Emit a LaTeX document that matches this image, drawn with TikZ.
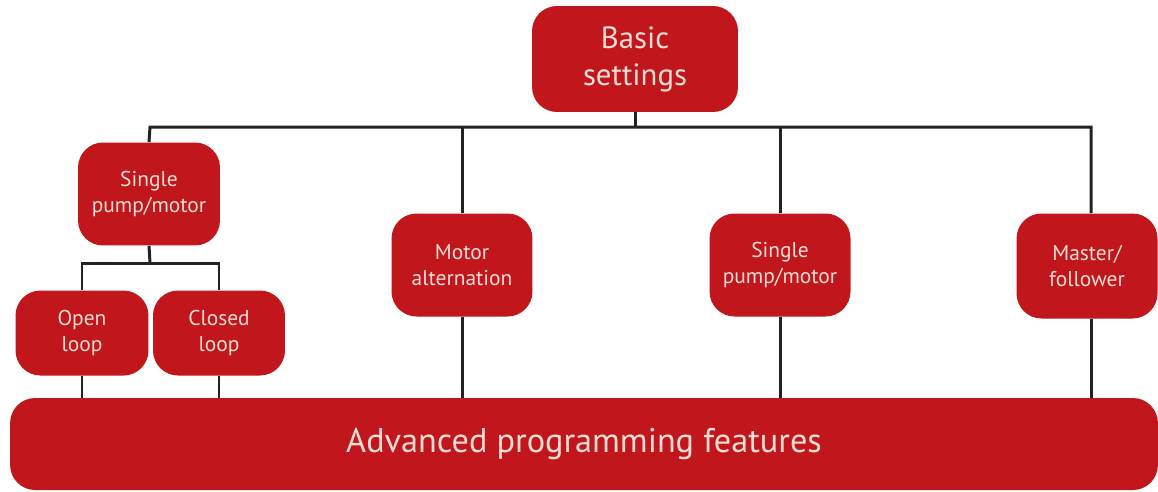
\documentclass[tikz,border=0pt]{standalone}
\usepackage{fontspec}
\setmainfont{PT Sans}
\usepackage{xcolor}
\usepackage{tikz}
\definecolor{boxred}{HTML}{C0161C}
\definecolor{boxtext}{HTML}{F7DCD2}
\definecolor{wire}{HTML}{222222}

\begin{document}
\begin{tikzpicture}[x=0.02cm,y=-0.02cm,
                box/.style={fill=boxred,text=boxtext,rounded corners=0.5cm,align=center,inner sep=0pt,font=\fontsize{12.2}{14.8}\selectfont},
                wirestyle/.style={draw=wire,line width=1.7pt}]
                \useasboundingbox (0,0) rectangle (1158,491);
                \node[box,minimum width=4.12cm,minimum height=2.12cm,font=\fontsize{17.5}{21}\selectfont] (basic) at (635,59) {Basic\\settings};
                \node[box,minimum width=2.84cm,minimum height=2.06cm] (single) at (149,194) {Single\\pump/motor};
                \node[box,minimum width=2.82cm,minimum height=2.06cm] (motor) at (462,265) {Motor\\alternation};
                \node[box,minimum width=2.82cm,minimum height=2.06cm] (pump) at (780,265) {Single\\pump/motor};
                \node[box,minimum width=2.82cm,minimum height=2.1cm] (master) at (1087,266) {Master/\\follower};
                \node[box,minimum width=2.66cm,minimum height=1.7cm] (open) at (82,333) {Open\\loop};
                \node[box,minimum width=2.64cm,minimum height=1.7cm] (closed) at (219,333) {Closed\\loop};
                \node[box,minimum width=22.96cm,minimum height=1.84cm,font=\fontsize{19.5}{22}\selectfont] (adv) at (584,444) {Advanced programming features};
                \coordinate (busL) at (150,127);
                \coordinate (busR) at (1091,127);
                \coordinate (sub) at (150,263);
                \draw[wirestyle] (basic.south) -- (basic |- busL);
                \draw[wirestyle] (single.north) -- (busL) -- (busR) -- (busR |- master.north);
                \draw[wirestyle] (motor.north) -- (motor |- busL);
                \draw[wirestyle] (pump.north) -- (pump |- busL);
                \draw[wirestyle] (single.south) -- (sub);
                \draw[wirestyle] (open.north) -- (open |- sub) -- (closed |- sub) -- (closed.north);
                \draw[wirestyle] (open.south) -- (open |- adv.north);
                \draw[wirestyle] (closed.south) -- (closed |- adv.north);
                \draw[wirestyle] (motor.south) -- (motor |- adv.north);
                \draw[wirestyle] (pump.south) -- (pump |- adv.north);
                \draw[wirestyle] (busR |- master.south) -- (busR |- adv.north);
\end{tikzpicture}
\end{document}
